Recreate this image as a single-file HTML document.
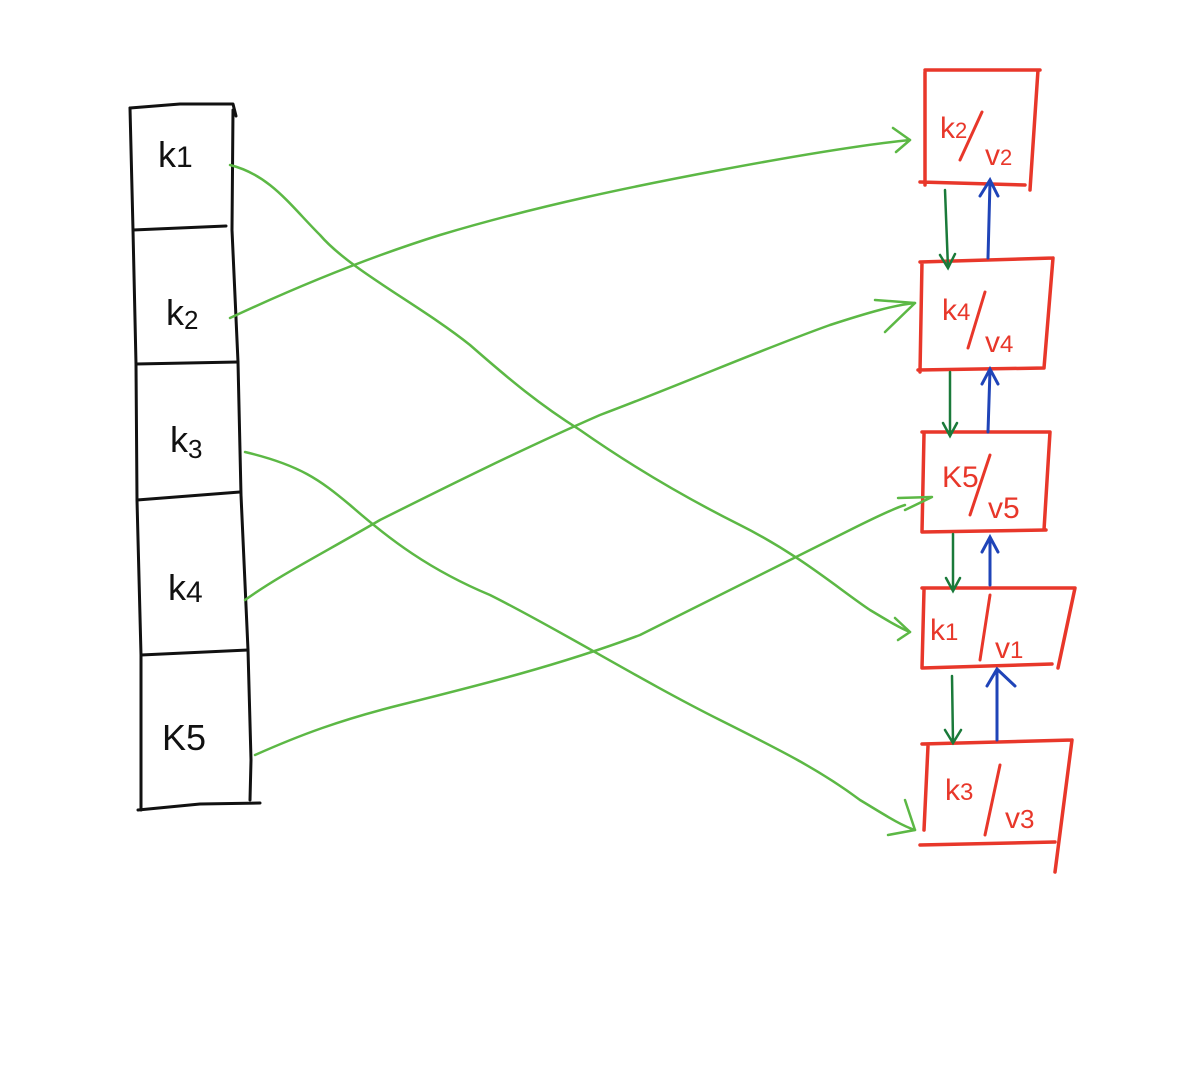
<!DOCTYPE html>
<html><head><meta charset="utf-8"><style>
html,body{margin:0;padding:0;background:#fff;width:1182px;height:1077px;overflow:hidden}
svg{display:block}
text{font-family:"Liberation Sans",sans-serif}
</style></head><body>
<svg width="1182" height="1077" viewBox="0 0 1182 1077" xmlns="http://www.w3.org/2000/svg">
<g fill="none" stroke="#111" stroke-width="3" stroke-linecap="round" stroke-linejoin="round">
<path d="M130,108 L180,104 L233,104 L236,116"/>
<path d="M130,108 L133,230 L136,364 L137,500 L141,655 L141,810"/>
<path d="M233,110 L232,230 L238,362 L241,495 L248,650 L251,760 L250,800"/>
<path d="M138,810 L200,804 L260,803"/>
<path d="M133,230 L226,226"/>
<path d="M136,364 L238,362"/>
<path d="M137,500 L240,492"/>
<path d="M141,655 L248,650"/>
</g>
<g font-size="36" fill="#111">
<text x="158" y="167">k<tspan font-size="30">1</tspan></text>
<text x="166" y="325">k<tspan font-size="26" dy="4">2</tspan></text>
<text x="170" y="452">k<tspan font-size="26" dy="6">3</tspan></text>
<text x="168" y="600">k<tspan font-size="30" dy="2">4</tspan></text>
<text x="162" y="750">K5</text>
</g>
<g fill="none" stroke="#e8372a" stroke-width="3.5" stroke-linecap="round">
<path d="M925,70 L1040,70 M925,72 L925,185 M1038,70 L1030,190 M920,182 L1025,185"/>
<path d="M920,262 L1053,258 M922,262 L920,372 M1053,258 L1044,368 M918,370 L1044,368"/>
<path d="M922,432 L1050,432 M924,434 L922,532 M1050,432 L1044,530 M922,532 L1046,530"/>
<path d="M922,588 L1075,588 M924,590 L922,668 M1075,588 L1058,668 M922,668 L1052,664"/>
<path d="M922,744 L1072,740 M928,746 L924,830 M1072,740 L1055,872 M920,845 L1055,842"/>
</g>
<g fill="#e8372a" font-size="30">
<text x="940" y="138">k<tspan font-size="22">2</tspan></text>
<text x="942" y="320">k<tspan font-size="24">4</tspan></text>
<text x="942" y="487">K5</text>
<text x="930" y="640">k<tspan font-size="24">1</tspan></text>
<text x="945" y="800">k<tspan font-size="24">3</tspan></text>
<text x="985" y="165">v<tspan font-size="22">2</tspan></text>
<text x="985" y="352">v<tspan font-size="24">4</tspan></text>
<text x="988" y="518">v5</text>
<text x="995" y="658">v<tspan font-size="24">1</tspan></text>
<text x="1005" y="828">v<tspan font-size="26">3</tspan></text>
</g>
<g fill="none" stroke="#e8372a" stroke-width="3" stroke-linecap="round">
<path d="M982,112 L960,160"/>
<path d="M985,292 L968,348"/>
<path d="M990,455 L970,515"/>
<path d="M990,595 L980,660"/>
<path d="M1000,765 L985,835"/>
</g>
<g fill="none" stroke="#1a7a3a" stroke-width="2.5" stroke-linecap="round">
<path d="M945,190 L948,268 M940,255 L948,268 L955,254"/>
<path d="M950,372 L950,435 M943,423 L950,436 L957,423"/>
<path d="M953,534 L953,590 M946,578 L953,591 L960,578"/>
<path d="M952,676 L953,742 M945,730 L953,743 L961,730"/>
</g>
<g fill="none" stroke="#1f44b8" stroke-width="3" stroke-linecap="round">
<path d="M988,258 L990,182 M980,196 L990,180 L998,196"/>
<path d="M988,432 L990,370 M982,384 L990,369 L998,384"/>
<path d="M990,585 L990,538 M982,552 L990,537 L998,552"/>
<path d="M997,740 L997,670 M987,686 L997,669 L1015,686"/>
</g>
<g fill="none" stroke="#5cb845" stroke-width="2.5" stroke-linecap="round" stroke-linejoin="round">
<path d="M230,165 C270,175 290,205 320,235 C350,270 420,305 470,345 C510,380 540,405 580,430 C630,465 680,495 740,525 C800,555 840,590 870,610 C890,622 900,628 910,632"/>
<path d="M895,618 L910,632 L898,640"/>
<path d="M230,318 C290,290 360,260 440,235 C540,205 640,185 720,170 C800,155 860,145 910,140"/>
<path d="M893,128 L910,140 L896,152"/>
<path d="M245,452 C300,465 320,480 350,505 C390,540 430,570 490,595 C560,630 640,680 720,720 C780,750 820,770 860,800 C885,815 900,825 915,830"/>
<path d="M905,800 L915,830 L888,835"/>
<path d="M245,600 C280,575 320,555 380,520 C440,490 520,450 600,415 C680,385 760,350 830,325 C870,312 895,305 915,303"/>
<path d="M875,300 L915,303 L885,332"/>
<path d="M255,755 C300,735 340,720 400,705 C480,685 560,665 640,635 C720,595 790,560 850,530 C880,515 895,508 905,505"/>
<path d="M898,498 L932,497 L905,510"/>
</g>
</svg>
</body></html>
